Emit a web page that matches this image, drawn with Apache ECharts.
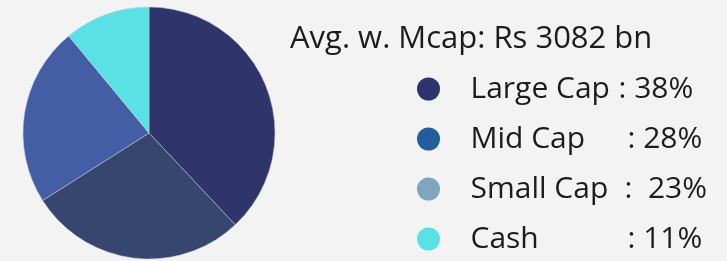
<!DOCTYPE html>
<html>
<head>
<meta charset="utf-8">
<script src="https://cdn.jsdelivr.net/npm/echarts@6/dist/echarts.min.js"></script>
<style>
  html, body { margin: 0; padding: 0; background: #f3f3f3; }
  #chart { width: 727px; height: 261px; }
</style>
</head>
<body>
<div id="chart"></div>
<script>
// data
const categories = ['Large Cap', 'Mid Cap', 'Small Cap', 'Cash'];
const shares = [38, 28, 23, 11];
const sliceColors = ['#2f346b', '#36466f', '#445ea6', '#5ae1e6'];
const legendColors = ['#2e3470', '#245d9c', '#7fa5bf', '#5ae1e6'];
const headline = 'Avg. w. Mcap: Rs 3082 bn';

// width of the name column per row, so the colons sit like the original
const nameWidths = [148, 157, 154, 157];
const colonGaps = [' ', ' ', '  ', ' '];

const myChart = echarts.init(document.getElementById('chart'));

const rich = { v: { fontSize: 30, color: '#1c1c1c', fontFamily: 'Open Sans' } };
nameWidths.forEach((w, i) => {
  rich['n' + i] = { fontSize: 30, width: w, color: '#1c1c1c', fontFamily: 'Open Sans' };
});

const option = {
  backgroundColor: '#f3f3f3',
  textStyle: { fontFamily: 'Open Sans' },
  title: {
    text: headline,
    left: 290,
    top: 24,
    padding: 0,
    textStyle: { fontSize: 31, fontWeight: 'normal', color: '#1c1c1c', fontFamily: 'Open Sans' }
  },
  legend: {
    orient: 'vertical',
    left: 417,
    top: 74,
    height: 240,
    padding: 0,
    icon: 'circle',
    itemWidth: 74,
    itemHeight: 23,
    itemGap: 20,
    selectedMode: false,
    itemStyle: { borderWidth: 0 },
    data: categories.map((c, i) => ({ name: c, itemStyle: { color: legendColors[i], borderWidth: 0 } })),
    formatter: function (name) {
      const i = categories.indexOf(name);
      return '{n' + i + '|' + name + '}{v|:' + colonGaps[i] + shares[i] + '%}';
    },
    textStyle: {
      color: '#1c1c1c',
      fontSize: 30,
      rich: rich
    }
  },
  series: [
    {
      type: 'pie',
      center: [149, 133],
      radius: 126,
      startAngle: 90,
      clockwise: true,
      silent: true,
      label: { show: false },
      labelLine: { show: false },
      itemStyle: { borderColor: '#c8cbe0', borderWidth: 0.5 },
      data: categories.map((c, i) => ({ name: c, value: shares[i], itemStyle: { color: sliceColors[i] } }))
    }
  ]
};

myChart.setOption(option);
window.addEventListener('resize', function () {
  myChart.resize();
});
</script>
</body>
</html>
